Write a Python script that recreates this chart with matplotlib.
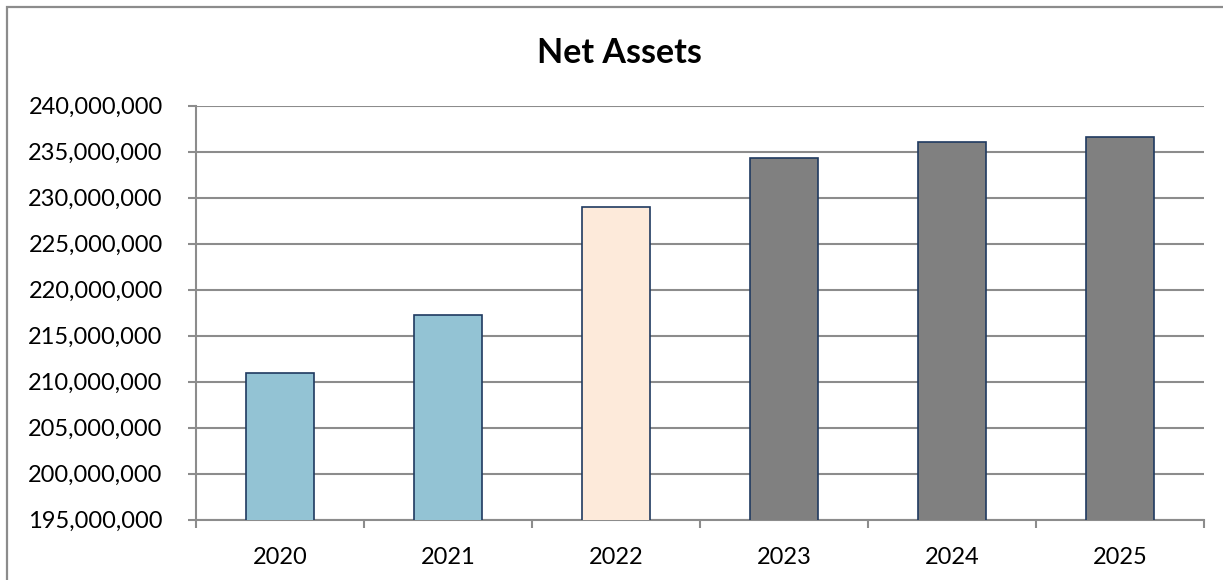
import matplotlib
matplotlib.use("Agg")
import matplotlib.pyplot as plt
from matplotlib.patches import Rectangle
from matplotlib.ticker import FuncFormatter, MultipleLocator, FixedLocator

years = ["2020", "2021", "2022", "2023", "2024", "2025"]
net_assets = [210_950_000, 217_250_000, 229_000_000, 234_300_000, 236_100_000, 236_550_000]
bar_colors = ["#93C3D4", "#93C3D4", "#FDEADA", "#808080", "#808080", "#808080"]

plt.rcParams["font.family"] = ["Lato", "DejaVu Sans"]

W, H = 1223, 580
fig = plt.figure(figsize=(W / 100, H / 100), dpi=100)

# chart frame
fig.patches.append(Rectangle((7 / W, -0.1), 1.2, (H - 7) / H + 0.1,
                             transform=fig.transFigure, fill=False,
                             edgecolor="#8C8C8C", linewidth=1.6))

ax = fig.add_axes([196 / W, (H - 519.5) / H, (1204 - 196) / W, (519.5 - 105.7) / H])

x = range(len(years))
ax.bar(x, net_assets, width=0.405, color=bar_colors, edgecolor="#1F3A60",
       linewidth=1.2, zorder=3)

ax.set_xlim(-0.5, len(years) - 0.5)
ax.set_ylim(195_000_000, 240_000_000)
ax.yaxis.set_major_locator(MultipleLocator(5_000_000))
ax.yaxis.set_major_formatter(FuncFormatter(lambda v, p: f"{v:,.0f}"))
ax.grid(axis="y", color="#8C8C8C", linewidth=1.5, zorder=0)
ax.set_axisbelow(True)

ax.set_xticks(list(x))
ax.set_xticklabels(years)
ax.xaxis.set_minor_locator(FixedLocator([i - 0.5 for i in range(len(years) + 1)]))
ax.tick_params(axis="x", which="major", length=0, pad=20, labelsize=17)
ax.tick_params(axis="x", which="minor", length=6, width=1.5, color="#8C8C8C", direction="out")
ax.tick_params(axis="y", length=6, width=1.5, color="#8C8C8C", direction="out",
               pad=18, labelsize=17)

for s in ("top", "right"):
    ax.spines[s].set_visible(False)
for s in ("left", "bottom"):
    ax.spines[s].set_color("#8C8C8C")
    ax.spines[s].set_linewidth(1.5)

fig.text(619.5 / W, (H - 53) / H, "Net Assets", ha="center", va="center",
         fontsize=24.5, fontweight="bold", color="black")

fig.savefig("out.png", dpi=100)
